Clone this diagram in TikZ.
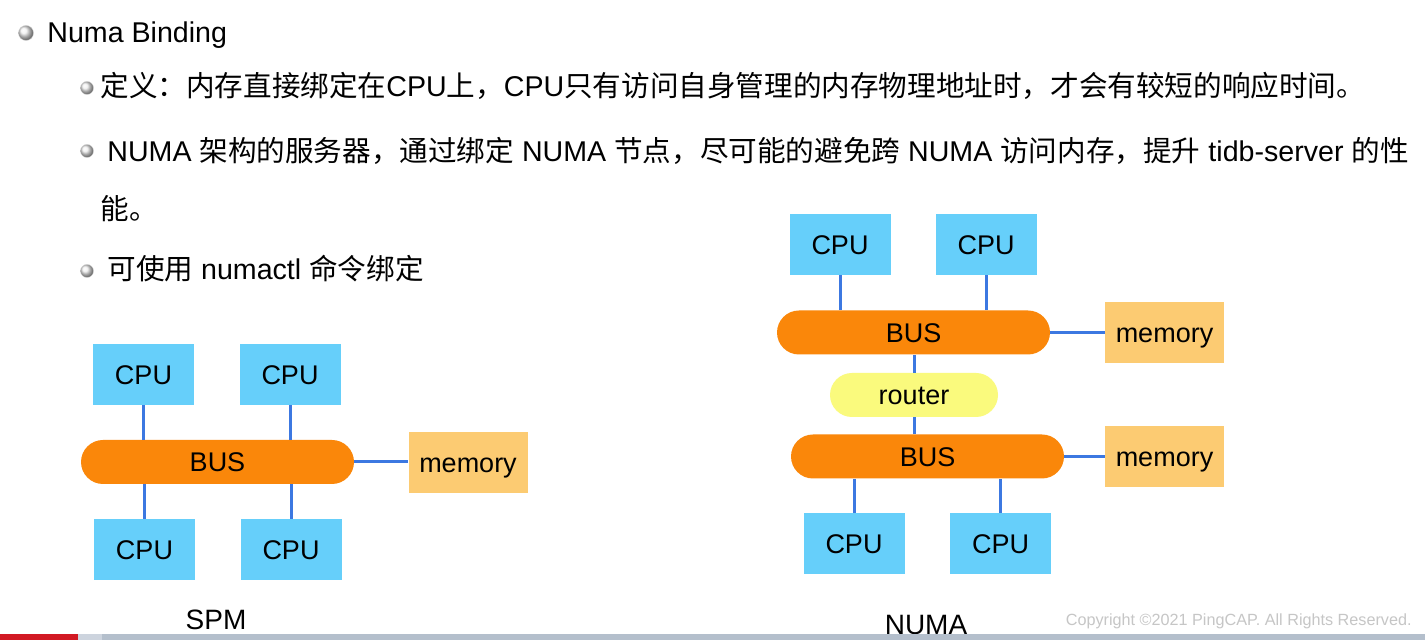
\documentclass[tikz,border=0pt]{standalone}
\usepackage{fontspec}
\setmainfont{Liberation Sans}
\newfontfamily\cjk{Noto Sans CJK SC}

\definecolor{cpublue}{RGB}{102,207,250}
\definecolor{busorange}{RGB}{250,135,10}
\definecolor{memyellow}{RGB}{252,203,114}
\definecolor{routeryellow}{RGB}{250,250,125}
\definecolor{linkblue}{RGB}{60,120,225}
\definecolor{barred}{RGB}{210,25,35}
\definecolor{barlight}{RGB}{205,212,222}
\definecolor{bargray}{RGB}{180,191,204}
\definecolor{copygray}{RGB}{198,198,198}

\begin{document}
\begin{tikzpicture}[x=0.5pt, y=-0.5pt,
    box/.style={inner sep=0pt, text height=9.7pt, text depth=0pt, font=\fontsize{13.5}{16}\selectfont},
    cpu/.style={box, fill=cpublue, minimum width=50.5pt, minimum height=30.5pt},
    bus/.style={box, fill=busorange, rounded corners=11pt, minimum width=136.5pt, minimum height=22pt},
    mem/.style={box, fill=memyellow, minimum width=59.5pt, minimum height=30.5pt},
    router/.style={box, fill=routeryellow, rounded corners=11pt, minimum width=84pt, minimum height=22pt},
    link/.style={draw=linkblue, line width=1.5pt},
    line/.style={anchor=base west, inner sep=0pt, font=\fontsize{14.3}{17}\selectfont},
    dot/.style={ball color=gray!12, draw=gray!35, very thin}]
  \useasboundingbox[fill=white] (0,0) rectangle (1425,640);

  % Text part
  \shade[dot] (26,33) circle (7.5);
  \node[line] (title) at (47,43) {Numa Binding};
  \shade[dot] (87,88) circle (6.5);
  \node[line] (def) at (100,97) {{\cjk 定义：内存直接绑定在}CPU{\cjk 上，}CPU{\cjk 只有访问自身管理的内存物理地址时，才会有较短的响应时间。}};
  \shade[dot] (87,151) circle (6.5);
  \node[line] (numa) at (107,162) {NUMA {\cjk 架构的服务器，通过绑定} NUMA {\cjk 节点，尽可能的避免跨} NUMA {\cjk 访问内存，提升} tidb-server {\cjk 的性}};
  \node[line] (numa2) at (100,220) {{\cjk 能。}};
  \shade[dot] (87,271) circle (6.5);
  \node[line] (cmd) at (107,280) {{\cjk 可使用} numactl {\cjk 命令绑定}};

  % SPM part
  \node[cpu] (cpu1) at (143.5,374.5) {CPU};
  \node[cpu] (cpu2) at (290,374.5) {CPU};
  \node[bus] (spmbus) at (217.5,462) {BUS};
  \node[mem] (spmmem) at (468,462.5) {memory};
  \node[cpu] (cpu3) at (144.5,549.5) {CPU};
  \node[cpu] (cpu4) at (291,549.5) {CPU};

  \draw[link] (cpu1.south) -- (cpu1.south |- spmbus.north);
  \draw[link] (cpu2.south) -- (cpu2.south |- spmbus.north);
  \draw[link] (cpu3.north) -- (cpu3.north |- spmbus.south);
  \draw[link] (cpu4.north) -- (cpu4.north |- spmbus.south);
  \draw[link] (spmbus.east) -- (spmbus.east -| spmmem.west);

  \node[anchor=base, inner sep=0pt, font=\fontsize{14}{17}\selectfont] (spm) at (216,630) {SPM};

  % NUMA part
  \node[cpu] (cpu5) at (840,244.5) {CPU};
  \node[cpu] (cpu6) at (986,244.5) {CPU};
  \node[bus] (numabus1) at (913.5,332.5) {BUS};
  \node[mem] (numamem1) at (1164.5,332.5) {memory};
  \node[router] (router) at (914,395) {router};
  \node[bus] (numabus2) at (927.5,456.5) {BUS};
  \node[mem] (numamem2) at (1164.5,456.5) {memory};
  \node[cpu] (cpu7) at (854,544) {CPU};
  \node[cpu] (cpu8) at (1000.5,544) {CPU};

  \draw[link] (cpu5.south) -- (cpu5.south |- numabus1.north);
  \draw[link] (cpu6.south) -- (cpu6.south |- numabus1.north);
  \draw[link] (numabus1.east) -- (numamem1.west);
  \draw[link] (router.north) -- (router.north |- numabus1.south);
  \draw[link] (router.south) -- (router.south |- numabus2.north);
  \draw[link] (numabus2.east) -- (numamem2.west);
  \draw[link] (cpu7.north) -- (cpu7.north |- numabus2.south);
  \draw[link] (cpu8.north) -- (cpu8.north |- numabus2.south);

  \node[anchor=base, inner sep=0pt, font=\fontsize{14}{17}\selectfont] (numalabel) at (926,635) {NUMA};

  % Footer
  \node[anchor=base east, inner sep=0pt, text=copygray, font=\fontsize{8.1}{10}\selectfont] (copy) at (1412,626) {Copyright ©2021 PingCAP. All Rights Reserved.};
  \fill[bargray] (0,634) rectangle (1425,640);
  \fill[barlight] (0,634) rectangle (102,640);
  \fill[barred] (0,634) rectangle (78,640);
\end{tikzpicture}
\end{document}
